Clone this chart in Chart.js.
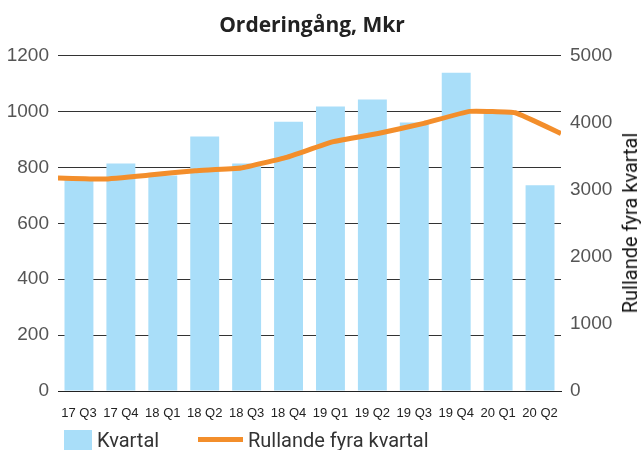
<!DOCTYPE html>
<html>
<head>
<meta charset="utf-8">
<script src="https://cdn.jsdelivr.net/npm/chart.js@4"></script>
<style>
    body { margin: 0; background: #fff; }
    #wrap { position: relative; width: 643px; height: 450px; overflow: hidden; }
    #chart { position: absolute; left: 0; top: 0; }
    #title {
        position: absolute; left: 162px; width: 300px; top: 11px;
        text-align: center; font: bold 21px "Open Sans", sans-serif; line-height: 26px; color: #222;
    }
    #ytitle {
        position: absolute; left: 630px; top: 223px; white-space: nowrap;
        font: 20px Roboto, sans-serif; line-height: 20px; color: #111;
        transform: translate(-50%, -50%) rotate(-90deg);
    }
    .lg { position: absolute; }
    .lgtext { position: absolute; font: 20px Roboto, sans-serif; line-height: 20px; color: #333; white-space: nowrap; }
</style>
</head>
<body>
<div id="wrap">
    <canvas id="chart" width="643" height="450"></canvas>
    <div id="title">Orderingång, Mkr</div>
    <div id="ytitle">Rullande fyra kvartal</div>
    <div class="lg" style="left:64px; top:430px; width:28px; height:20px; background:#A9DEF9;"></div>
    <div class="lgtext" style="left:97px; top:430px;">Kvartal</div>
    <div class="lg" style="left:198px; top:437px; width:45px; height:5px; background:#F38E2B;"></div>
    <div class="lgtext" style="left:248px; top:430px;">Rullande fyra kvartal</div>
</div>
<script>
// kvartal (Mkr) och rullande fyra kvartal
const kvartalLabels = ["17 Q3", "17 Q4", "18 Q1", "18 Q2", "18 Q3", "18 Q4", "19 Q1", "19 Q2", "19 Q3", "19 Q4", "20 Q1", "20 Q2"];
const kvartalValues = [755, 814, 771, 911, 814, 964, 1018, 1043, 961, 1139, 995, 736];
const rullandeValues = [3175, 3160, 3220, 3285, 3325, 3485, 3715, 3840, 3990, 4170, 4150, 3840];
const leftTicks = [0, 200, 400, 600, 800, 1000, 1200];
const rightTicks = [0, 1000, 2000, 3000, 4000, 5000];

const barColor = "#A9DEF9";
const lineColor = "#F38E2B";

document.addEventListener("DOMContentLoaded", function () {
    const ctx = document.getElementById("chart").getContext("2d");

    new Chart(ctx, {
        data: {
            labels: kvartalLabels,
            datasets: [
                {
                    type: "line",
                    label: "Rullande fyra kvartal",
                    data: rullandeValues,
                    xAxisID: "xLine",
                    yAxisID: "y1",
                    borderColor: lineColor,
                    borderWidth: 5,
                    pointRadius: 0,
                    tension: 0.1,
                    borderJoinStyle: "round",
                    clip: 0,
                    order: 0
                },
                {
                    type: "bar",
                    label: "Kvartal",
                    data: kvartalValues,
                    xAxisID: "x",
                    yAxisID: "y",
                    backgroundColor: barColor,
                    grouped: false,
                    barPercentage: 0.69,
                    categoryPercentage: 1,
                    order: 1
                }
            ]
        },
        options: {
            responsive: false,
            animation: false,
            layout: { padding: { top: 55.7, left: 0, right: 0, bottom: 0 } },
            plugins: {
                legend: { display: false },
                title: { display: false },
                tooltip: { enabled: false }
            },
            scales: {
                x: {
                    type: "category",
                    position: "bottom",
                    offset: true,
                    grid: { display: false },
                    border: { display: true, color: "#222", width: 1 },
                    ticks: {
                        color: "#222",
                        font: { family: "'Liberation Sans', Arial", size: 13 },
                        padding: 7,
                        maxRotation: 0,
                        autoSkip: false
                    },
                    afterFit: axis => { axis.height = 59; }
                },
                xLine: {
                    type: "category",
                    position: "bottom",
                    offset: false,
                    display: false
                },
                y: {
                    position: "left",
                    min: 0,
                    max: 1200,
                    afterBuildTicks: axis => { axis.ticks = leftTicks.map(v => ({ value: v })); },
                    grid: { color: "#333", lineWidth: 1, drawTicks: false },
                    border: { display: false },
                    ticks: {
                        color: "#555",
                        font: { family: "'Liberation Sans', Arial", size: 19 },
                        padding: 9,
                        callback: value => String(value)
                    },
                    afterFit: axis => { axis.width = 58; }
                },
                y1: {
                    position: "right",
                    min: 0,
                    max: 5000,
                    afterBuildTicks: axis => { axis.ticks = rightTicks.map(v => ({ value: v })); },
                    grid: { display: false, drawTicks: false },
                    border: { display: false },
                    ticks: {
                        color: "#555",
                        font: { family: "'Liberation Sans', Arial", size: 19 },
                        padding: 9,
                        callback: value => String(value)
                    },
                    afterFit: axis => { axis.width = 82; }
                }
            }
        }
    });
});
</script>
</body>
</html>
